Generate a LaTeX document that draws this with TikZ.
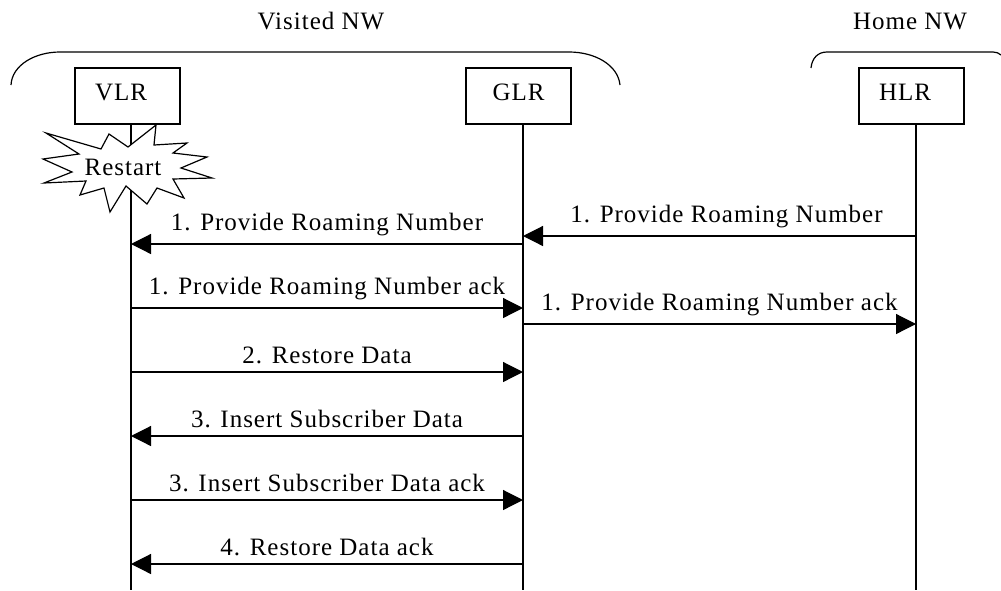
\documentclass[tikz,border=0pt]{standalone}
\usepackage{fontspec}
\setmainfont[LetterSpace=4]{Liberation Serif}
\usetikzlibrary{arrows.meta}
\tikzset{
  entity/.style={draw, line width=1.2pt, minimum width=105pt, minimum height=56pt, inner sep=0pt, text depth=8pt},
  lifeline/.style={line width=1.2pt},
  bracket/.style={line width=1.2pt},
  msg/.style={line width=1.2pt, -{Triangle[length=20pt,width=20pt]}, shorten >=0pt},
}
\begin{document}
\begin{tikzpicture}[x=1pt, y=-1pt, font=\fontsize{25}{29}\selectfont]
      \useasboundingbox (0, 0) rectangle (1001, 590);
      \node (visited) at (321, 21) {Visited NW}; \node (home) at (910, 21) {Home NW};
      \node [entity] (vlr) at (127.5, 96) {VLR\kern13pt};
      \node [entity] (glr) at (518.5, 96) {GLR};
      \node [entity] (hlr) at (911.5, 96) {HLR\kern13pt};

      \coordinate (vtop) at (131, 124); \coordinate (gtop) at (523, 124); \coordinate (htop) at (916, 124);
      \coordinate (vend) at (131, 590); \coordinate (gend) at (523, 590); \coordinate (hend) at (916, 590);
      \draw [lifeline] (vtop) -- (vend);
      \draw [lifeline] (gtop) -- (gend);
      \draw [lifeline] (htop) -- (hend);

      \draw [bracket] (11, 85) .. controls (12, 65) and (35, 52) .. (60, 52) -- (569, 52) .. controls (595, 52) and (618, 65) .. (620, 85);
      \draw [bracket] (811, 68) .. controls (812, 58) and (818, 52) .. (827, 52) -- (993, 52) .. controls (996, 52) and (999, 53) .. (1001, 55);

      \draw [line width=1.2pt, fill=white] (46, 133) -- (101, 149) -- (109, 134) -- (128, 147) -- (156, 125) -- (154, 145) -- (187, 143) -- (173, 153) -- (207, 157) -- (181, 168) -- (212, 178) -- (173, 179) -- (184, 198) -- (157, 188) -- (147, 204) -- (126, 186) -- (110, 212) -- (104, 188) -- (80, 195) -- (86, 181) -- (44, 183) -- (72, 172) -- (43, 159) -- (79, 154) -- cycle;
      \node (restart) at (123, 167) {Restart};

      \coordinate (v1) at (131, 244); \coordinate (g1) at (523, 244); \coordinate (h1) at (916, 236); \coordinate (g2) at (523, 236);
      \coordinate (v3) at (131, 308); \coordinate (g3) at (523, 308); \coordinate (g4) at (523, 324); \coordinate (h4) at (916, 324);
      \coordinate (v5) at (131, 372); \coordinate (g5) at (523, 372);
      \coordinate (v6) at (131, 436); \coordinate (g6) at (523, 436);
      \coordinate (v7) at (131, 500); \coordinate (g7) at (523, 500);
      \coordinate (v8) at (131, 564); \coordinate (g8) at (523, 564);

      \path [msg, every node/.style={above=4pt}]
      (g1) edge node {1. Provide Roaming Number} (v1)
      (h1) edge node [xshift=7pt] {1. Provide Roaming Number} (g2)
      (v3) edge node {1. Provide Roaming Number ack} (g3)
      (g4) edge node {1. Provide Roaming Number ack} (h4)
      (v5) edge node {2. Restore Data} (g5)
      (g6) edge node {3. Insert Subscriber Data} (v6)
      (v7) edge node {3. Insert Subscriber Data ack} (g7)
      (g8) edge node {4. Restore Data ack} (v8);
    \end{tikzpicture}
\end{document}
